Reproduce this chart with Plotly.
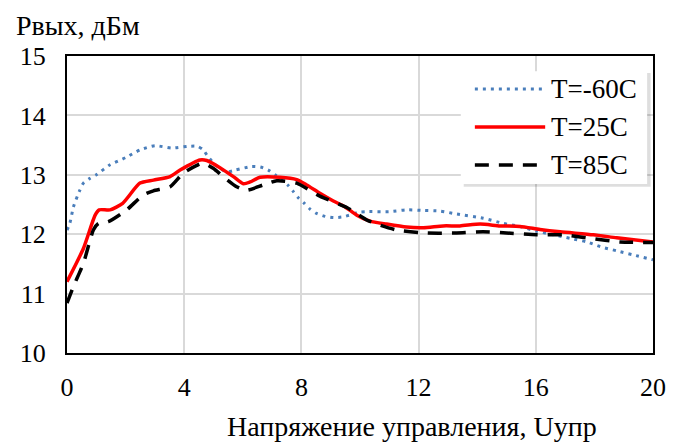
import plotly.graph_objects as go

# T=-60C
x_m60 = [0, 0.1, 0.22, 0.42, 0.56, 0.78, 1.0, 1.47, 2.0, 2.5, 3.0, 3.57, 4.14, 4.45, 4.65, 4.82, 5.1, 5.45,
         5.75, 6.3, 6.6, 6.87, 7.1, 7.33, 7.55, 7.72, 7.9, 8.1, 8.3, 8.52, 8.81, 9.1, 9.4, 9.7, 9.94,
         10.23, 11.0, 11.6, 12.16, 12.73, 13.3, 14.2, 14.9, 15.46, 16.03, 16.6, 17.17, 17.74, 18.2,
         18.76, 19.33, 20.0]
y_m60 = [12.07, 12.19, 12.46, 12.72, 12.86, 12.94, 13.0, 13.17, 13.29, 13.42, 13.49, 13.45, 13.48, 13.48,
         13.42, 13.30, 13.15, 13.05, 13.08, 13.14, 13.13, 13.08, 13.0, 12.91, 12.82, 12.72, 12.61,
         12.52, 12.42, 12.35, 12.30, 12.28, 12.29, 12.33, 12.37, 12.38, 12.38, 12.41, 12.40, 12.39,
         12.34, 12.27, 12.18, 12.13, 12.05, 11.99, 11.93, 11.87, 11.79, 11.72, 11.65, 11.57]

# T=25C
x_25 = [0, 0.56, 0.96, 1.1, 1.47, 1.9, 2.49, 2.95, 3.52, 3.86, 4.54, 4.77, 5.22, 5.68, 6.02, 6.25, 6.59,
        7.27, 7.84, 8.18, 8.63, 9.09, 9.49, 9.89, 10.34, 10.91, 11.59, 12.16, 12.84, 13.41, 14.1,
        14.78, 15.46, 16.14, 16.83, 17.96, 18.76, 20.0]
y_25 = [11.2, 11.76, 12.32, 12.41, 12.41, 12.52, 12.86, 12.91, 12.97, 13.08, 13.25, 13.24, 13.12, 12.97,
        12.85, 12.88, 12.96, 12.96, 12.92, 12.83, 12.69, 12.56, 12.46, 12.32, 12.22, 12.17, 12.12,
        12.11, 12.14, 12.14, 12.17, 12.14, 12.13, 12.08, 12.04, 11.99, 11.94, 11.87]

# T=85C
x_85 = [0, 0.22, 0.56, 0.9, 1.07, 1.41, 2.04, 2.6, 2.95, 3.52, 3.97, 4.43, 4.65, 4.99, 5.33, 5.79, 6.13,
        6.7, 7.16, 7.84, 8.63, 9.55, 10.23, 10.57, 11.25, 12.28, 13.3, 14.2, 15.0, 16.03, 16.94,
        17.85, 18.87, 20.0]
y_85 = [10.84, 11.12, 11.51, 12.07, 12.18, 12.21, 12.41, 12.66, 12.73, 12.80, 13.03, 13.16, 13.20, 13.11,
        12.97, 12.80, 12.74, 12.83, 12.90, 12.86, 12.64, 12.45, 12.24, 12.17, 12.07, 12.02, 12.02,
        12.04, 12.02, 11.99, 11.99, 11.93, 11.87, 11.86]

x_ticks = [0, 4, 8, 12, 16, 20]
names = ["T=-60C", "T=25C", "T=85C"]
colors = ["#4a7ebb", "#ff0000", "#000000"]
dashes = ["3px,5px", "solid", "14px,10px"]
widths = [3, 3.5, 3.5]

FONT = "Liberation Serif"
FS = 26

fig = go.Figure()
for xs, ys, nm, c, d, w in zip([x_m60, x_25, x_85], [y_m60, y_25, y_85], names, colors, dashes, widths):
    fig.add_trace(go.Scatter(x=xs, y=ys, name=nm, mode="lines",
                             line=dict(color=c, width=w, dash=d, shape="spline", smoothing=0.6)))

# hand-made legend box (Excel style, with a soft shadow)
shapes = [
    dict(type="rect", xref="paper", yref="paper", x0=0.677, x1=0.996, y0=0.560, y1=0.943,
         fillcolor="rgba(0,0,0,0.13)", line=dict(width=0), layer="above"),
    dict(type="rect", xref="paper", yref="paper", x0=0.672, x1=0.990, y0=0.569, y1=0.949,
         fillcolor="white", line=dict(width=0), layer="above"),
]
annotations = []
for i, (nm, c, d, w) in enumerate(zip(names, colors, dashes, widths)):
    yy = 0.889 - i * 0.128
    shapes.append(dict(type="line", xref="paper", yref="paper", x0=0.696, x1=0.816, y0=yy, y1=yy,
                       line=dict(color=c, width=w, dash=d), layer="above"))
    annotations.append(dict(text=nm, xref="paper", yref="paper", x=0.822, y=yy, xanchor="left",
                            yanchor="middle", showarrow=False, font=dict(family=FONT, size=27, color="black")))

annotations.append(dict(text="Рвых, дБм", xref="paper", yref="paper", x=-0.09, y=1.16,
                        xanchor="left", yanchor="top", showarrow=False,
                        font=dict(family=FONT, size=28, color="black")))
annotations.append(dict(text="Напряжение управления, Uупр", xref="paper", yref="paper", x=0.588, y=-0.249,
                        xanchor="center", yanchor="middle", showarrow=False,
                        font=dict(family=FONT, size=28, color="black")))

fig.update_layout(
    width=676, height=435,
    margin=dict(l=59, r=31, t=48, b=90),
    paper_bgcolor="white", plot_bgcolor="white",
    font=dict(family=FONT, size=FS, color="black"),
    showlegend=False,
    shapes=shapes,
    annotations=annotations,
    xaxis=dict(range=[0, 20], tickvals=x_ticks, showgrid=True,
               gridcolor="#d9d9d9", gridwidth=1.5, showline=True, linecolor="black",
               linewidth=2, mirror=True, ticks="", zeroline=False, ticklabelstandoff=10,
               tickfont=dict(family=FONT, size=FS)),
    yaxis=dict(range=[10, 15], dtick=1, showgrid=True, gridcolor="#d9d9d9", gridwidth=1.5,
               showline=True, linecolor="black", linewidth=2, mirror=True, ticks="",
               zeroline=False, ticklabelstandoff=14, tickfont=dict(family=FONT, size=FS)),
)

fig.write_html("out.html")
